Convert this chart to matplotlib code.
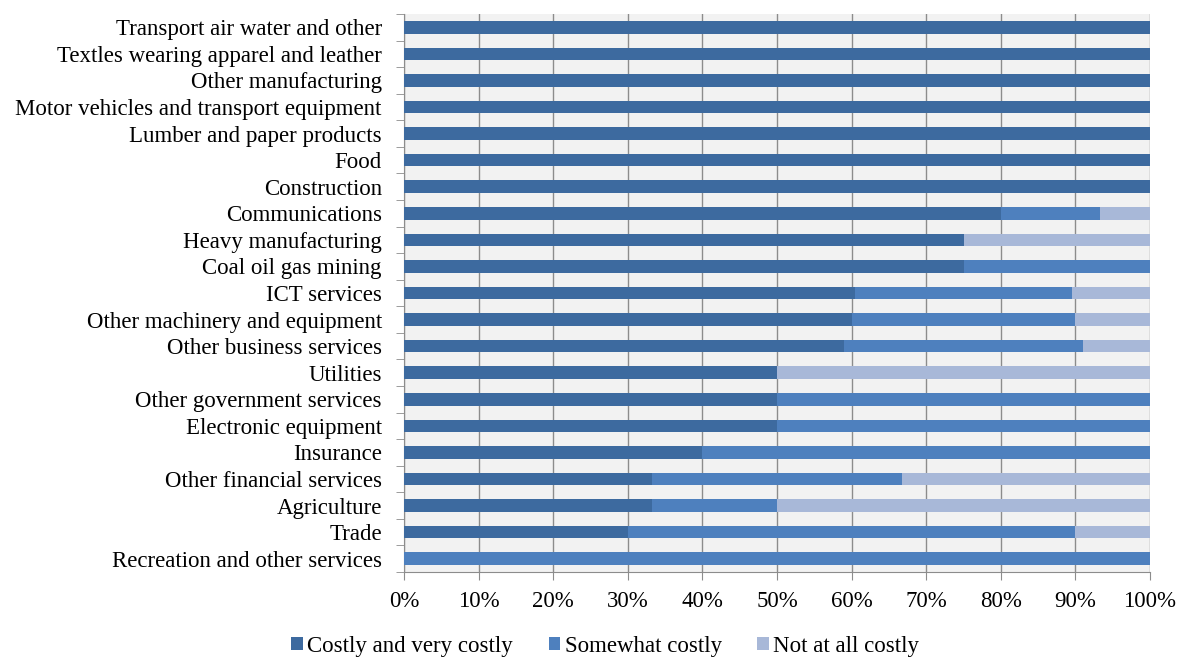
import matplotlib
matplotlib.use("Agg")
import matplotlib.pyplot as plt
from matplotlib.ticker import FixedLocator, PercentFormatter
import numpy as np

# ---------------------------------------------------------------------------
# Data (shares in %; top-to-bottom order)
# ---------------------------------------------------------------------------
sectors = [
    "Transport air water and other",
    "Textles wearing apparel and leather",
    "Other manufacturing",
    "Motor vehicles and transport equipment",
    "Lumber and paper products",
    "Food",
    "Construction",
    "Communications",
    "Heavy manufacturing",
    "Coal oil gas mining",
    "ICT services",
    "Other machinery and equipment",
    "Other business services",
    "Utilities",
    "Other government services",
    "Electronic equipment",
    "Insurance",
    "Other financial services",
    "Agriculture",
    "Trade",
    "Recreation and other services",
]
costly = [100, 100, 100, 100, 100, 100, 100, 80, 75, 75, 60.5, 60, 59, 50, 50, 50, 40, 33.3, 33.3, 30, 0]
somewhat = [0, 0, 0, 0, 0, 0, 0, 13.3, 0, 25, 29, 30, 32, 0, 50, 50, 60, 33.4, 16.7, 60, 100]
not_at_all = [0, 0, 0, 0, 0, 0, 0, 6.7, 25, 0, 10.5, 10, 9, 50, 0, 0, 0, 33.3, 50, 10, 0]

series_names = ["Costly and very costly", "Somewhat costly", "Not at all costly"]
colors = ["#3D6A9F", "#4E80BE", "#A8B8D8"]

# ---------------------------------------------------------------------------
# Figure
# ---------------------------------------------------------------------------
plt.rcParams["font.family"] = ["Liberation Serif", "DejaVu Serif"]
FS = 16.5

fig = plt.figure(figsize=(11.8, 6.6), dpi=100)
ax = fig.add_axes([0.3424, 0.1333, 0.6322, 0.8455])
ax.set_facecolor("#F2F2F2")

y = np.arange(len(sectors))[::-1]
left = np.zeros(len(sectors))
for name, vals, col in zip(series_names, [costly, somewhat, not_at_all], colors):
    vals = np.array(vals)
    ax.barh(y, vals, left=left, height=0.47, color=col, label=name, zorder=3)
    left += vals

ax.set_xlim(0, 100)
ax.set_ylim(-0.5, len(sectors) - 0.5)
ax.set_xticks(np.arange(0, 101, 10))
ax.xaxis.set_major_formatter(PercentFormatter(decimals=0))
ax.set_yticks(y)
ax.set_yticklabels(sectors)
ax.yaxis.set_minor_locator(FixedLocator(np.arange(-0.5, len(sectors), 1.0)))

ax.grid(axis="x", color="#8C8C8C", linewidth=1.0, zorder=1)
ax.tick_params(axis="y", which="major", length=0, pad=16, labelsize=FS)
ax.tick_params(axis="y", which="minor", length=6, color="#8C8C8C", direction="out")
ax.tick_params(axis="x", which="major", length=6, color="#8C8C8C", pad=8, labelsize=FS)

for side in ["top", "right"]:
    ax.spines[side].set_visible(False)
for side in ["left", "bottom"]:
    ax.spines[side].set_color("#8C8C8C")

leg = ax.legend(loc="lower center", bbox_to_anchor=(0.27, -0.152), ncol=3, frameon=False,
                fontsize=FS, handlelength=0.5, handleheight=0.5, handletextpad=0.2,
                columnspacing=1.55, borderpad=0.0, borderaxespad=0.0)

plt.savefig("out.png", dpi=100)
plt.close()
